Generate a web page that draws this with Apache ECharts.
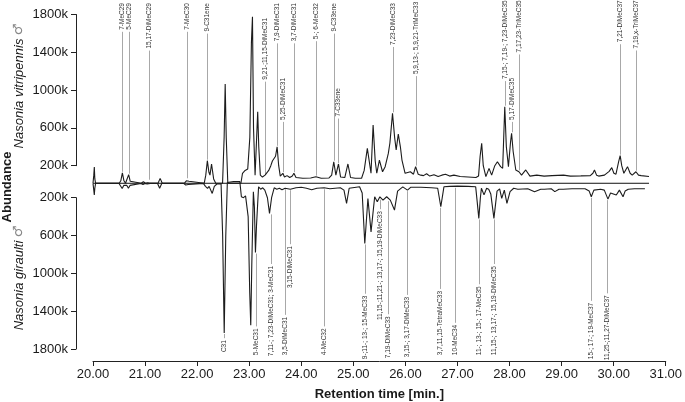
<!DOCTYPE html>
<html><head><meta charset="utf-8">
<script src="https://cdn.jsdelivr.net/npm/echarts@6/dist/echarts.min.js"></script>
<style>html,body{margin:0;padding:0;background:#fff}#c{width:685px;height:402px}</style>
</head><body><div id="c"></div>
<script>
// ---- data (abundance in thousands, time in minutes) ----
const vitTime = [20.00,20.015,20.025,20.035,20.05,20.50,20.53,20.56,20.59,20.62,20.65,20.68,20.71,20.74,20.92,20.96,21.00,21.04,21.07,21.10,21.24,21.28,21.32,21.74,21.78,21.80,21.83,21.86,22.12,22.15,22.18,22.21,22.23,22.26,22.30,22.34,22.47,22.50,22.52,22.54,22.57,22.82,22.85,22.90,22.95,22.99,23.02,23.04,23.06,23.09,23.12,23.14,23.16,23.19,23.23,23.28,23.31,23.35,23.39,23.42,23.45,23.48,23.51,23.54,23.57,23.60,23.62,23.65,23.70,23.75,23.80,23.83,23.87,24.00,24.15,24.25,24.35,24.50,24.55,24.59,24.63,24.68,24.72,24.80,24.86,24.91,25.00,25.12,25.17,25.23,25.30,25.34,25.38,25.41,25.46,25.52,25.57,25.63,25.66,25.71,25.75,25.78,25.82,25.86,25.89,25.95,26.05,26.11,26.15,26.20,26.25,26.30,26.36,26.42,26.50,26.58,26.65,26.72,26.80,26.88,27.00,27.15,27.30,27.35,27.38,27.41,27.44,27.49,27.55,27.60,27.66,27.71,27.77,27.81,27.83,27.85,27.88,27.92,27.96,27.98,28.01,28.06,28.12,28.17,28.25,28.33,28.46,28.60,28.75,28.97,29.10,29.30,29.48,29.53,29.56,29.60,29.64,29.75,29.84,29.89,29.93,29.97,30.02,30.05,30.08,30.12,30.19,30.24,30.28,30.35,30.40,30.45,30.60];
const vitAbund = [14,100,186,60,14,14,40,125,40,14,35,105,35,14,14,30,14,20,41,14,14,66,14,14,40,56,35,14,14,100,253,130,100,218,60,14,14,500,1064,500,14,14,120,150,165,500,1500,1776,600,100,500,771,400,100,80,100,110,150,200,250,230,300,400,200,90,100,120,80,95,75,90,120,75,67,70,84,67,70,100,242,100,218,80,75,218,75,67,67,150,384,120,630,250,120,260,136,190,330,440,754,500,366,535,400,260,120,136,110,190,110,100,95,115,90,105,85,100,110,90,100,85,80,75,90,300,437,200,84,172,100,200,242,190,172,500,824,400,190,450,543,350,155,136,100,155,90,100,90,95,100,90,92,95,120,155,100,90,100,140,180,120,110,240,306,200,120,190,120,100,136,100,95,85];

const girTime = [20.00,20.015,20.025,20.035,20.05,20.50,20.53,20.56,20.59,20.62,20.65,20.68,20.71,20.74,20.92,20.96,21.00,21.04,21.07,21.10,21.24,21.28,21.32,21.74,21.78,21.80,21.83,21.86,22.12,22.16,22.20,22.23,22.29,22.33,22.38,22.46,22.49,22.52,22.55,22.58,22.70,22.82,22.85,22.89,22.93,22.98,23.01,23.03,23.05,23.08,23.10,23.12,23.14,23.18,23.22,23.26,23.30,23.35,23.39,23.43,23.48,23.53,23.58,23.63,23.69,23.79,23.90,24.00,24.10,24.20,24.30,24.44,24.55,24.65,24.75,24.82,24.87,24.92,24.95,25.12,25.17,25.22,25.28,25.34,25.41,25.46,25.51,25.57,25.64,25.71,25.79,25.85,25.95,26.04,26.10,26.30,26.50,26.62,26.68,26.74,26.85,27.00,27.20,27.35,27.38,27.41,27.44,27.46,27.51,27.56,27.60,27.64,27.70,27.76,27.81,27.85,27.90,27.95,28.01,28.08,28.16,28.35,28.48,28.60,28.67,28.80,28.87,28.95,29.03,29.20,29.45,29.53,29.57,29.62,29.65,29.75,29.82,29.89,29.94,29.97,30.05,30.11,30.18,30.22,30.28,30.40,30.60];
const girAbund = [49,120,172,100,49,49,70,102,70,49,70,100,70,49,49,60,49,55,74,49,49,100,49,49,65,80,60,49,49,80,102,80,155,80,55,55,600,1630,600,40,30,30,190,200,180,400,1200,1548,900,137,300,780,500,85,110,95,120,200,366,200,95,110,100,115,100,110,95,90,100,115,100,95,105,100,95,120,260,100,85,85,150,684,208,561,190,243,190,226,190,226,331,130,85,120,90,90,95,100,296,85,80,78,80,85,250,419,200,100,170,100,110,160,419,130,106,208,120,261,136,100,110,105,136,110,110,105,136,110,110,106,106,130,190,120,110,110,120,215,150,136,172,120,190,130,110,106,106];

const baselineTime = [20.0, 30.6];
const baselineAbund = [14, 14];

// top labels: time, label, peak value (k), text-top value (k)
const vitLabelTime = [20.56,20.68,21.07,21.80,22.18,23.28,23.51,23.62,23.84,24.25,24.60,24.68,25.71,26.15,27.85,27.98,28.12,30.05,30.35];
const vitLabelText = ['7-MeC29','5-MeC29','15,17-DiMeC29','7-MeC30','9-C31ene','9,21-;11,15-DiMeC31','7,9-DiMeC31','5,25-DiMeC31','3,7-DiMeC31','5-; 6-MeC32','9-C33ene','7-C33ene','7,23-DiMeC33','5,9,13-; 5,9,21-TriMeC33','7,15-; 7,19-; 7,23-DiMeC35','5,17-DiMeC35','7,17,23-TriMeC35','7,21-DiMeC37','7,19,x-TriMeC37'];
const vitLabelPeak = [125,105,41,56,253,100,400,120,120,84,242,218,754,190,824,543,140,306,136];
const vitLabelTop = [1921,1921,1921,1921,1921,1763,1921,1128,1921,1921,1921,1022,1921,1935,1950,1128,1950,1950,1950];

// bottom labels: time, label, peak value (k), text-bottom value (k)
const girLabelTime = [22.52,23.13,23.41,23.69,23.79,24.44,25.22,25.52,25.66,26.04,26.67,26.95,27.41,27.70,29.57,29.87];
const girLabelText = ['C31','5-MeC31','7,11-; 7,23-DiMeC31; 3-MeC31','3,5-DiMeC31','3,15-DiMeC31','4-MeC32','9-;11-; 13-; 15-MeC33','11,15-;11,21-; 13,17-; 15,19-DiMeC33','7,19-DiMeC33','3,15-; 3,17-DiMeC33','3,7,11,15-TetraMeC33','10-MeC34','11-; 13-; 15-; 17-MeC35','11,15-; 13,17-; 15,19-DiMeC35','15-; 17-; 19-MeC37','11,25-;11,27-DiMeC37'];
const girLabelPeak = [1630,780,366,100,110,100,684,210,226,120,296,85,419,419,190,215];
const girLabelBottom = [1833,1865,1876,1865,1156,1865,1908,1494,1897,1887,1865,1865,1865,1865,1908,1918];

const yTicks = [200, 600, 1000, 1400, 1800];
const xTicks = [20,21,22,23,24,25,26,27,28,29,30,31];

// ---- helpers ----
const zip = (a, b) => a.map((v, i) => [v, b[i]]);
const FONT = '"Liberation Sans", Arial, Helvetica, sans-serif';
const LABEL_FONT = '6.5px ' + FONT;
const mctx = document.createElement('canvas').getContext('2d');
mctx.font = LABEL_FONT;
const measure = t => mctx.measureText(t).width;

function labelRenderer(texts, isTop) {
  return function (params, api) {
    const text = texts[params.dataIndex];
    const t = api.value(0);
    const peak = api.coord([t, api.value(1)]);
    const anchor = api.coord([t, api.value(2)]);
    const w = measure(text);
    const x = Math.round(anchor[0]) + 0.5;
    let y1, y2;
    if (isTop) { y1 = anchor[1] + w + 2; y2 = peak[1] - 1; }
    else { y1 = peak[1] + 1; y2 = anchor[1] - w - 2; }
    return {
      type: 'group',
      children: [
        { type: 'line', shape: { x1: x, y1: y1, x2: x, y2: y2 }, style: { stroke: '#a8a8a8', lineWidth: 1 } },
        { type: 'text', x: x, y: anchor[1], rotation: Math.PI / 2,
          style: { text: text, fill: '#333', font: LABEL_FONT,
                   align: isTop ? 'right' : 'left', verticalAlign: 'middle',
                   textAlign: isTop ? 'right' : 'left', textVerticalAlign: 'middle' } }
      ]
    };
  };
}

const chart = echarts.init(document.getElementById('c'), null, { renderer: 'canvas' });
const yAxisCommon = {
  type: 'value', min: yTicks[0], max: yTicks[yTicks.length - 1], interval: 400,
  offset: 17,
  axisLine: { show: true, lineStyle: { color: '#222', width: 1 } },
  axisTick: { show: true, length: 5, lineStyle: { color: '#222' } },
  axisLabel: { formatter: v => String(v) + 'k', fontSize: 13, color: '#1a1a1a', fontFamily: FONT, margin: 8 },
  splitLine: { show: false }
};
const option = {
  animation: false,
  backgroundColor: '#fff',
  grid: [
    { left: 93, width: 577, top: 14.5, height: 151.2 },
    { left: 93, width: 577, top: 197.7, height: 151.3 }
  ],
  xAxis: [
    { gridIndex: 0, type: 'value', min: 20, max: 31, show: false },
    { gridIndex: 1, type: 'value', min: xTicks[0], max: xTicks[xTicks.length - 1], interval: 1, offset: 12,
      axisLine: { show: true, lineStyle: { color: '#222' } },
      axisTick: { show: true, length: 5, lineStyle: { color: '#222' } },
      axisLabel: { formatter: v => v.toFixed(2), fontSize: 13, color: '#1a1a1a', fontFamily: FONT, margin: 7 },
      splitLine: { show: false },
      name: 'Retention time [min.]', nameLocation: 'middle', nameGap: 27,
      nameTextStyle: { fontSize: 13, fontWeight: 'bold', color: '#1a1a1a', fontFamily: FONT } }
  ],
  yAxis: [
    Object.assign({ gridIndex: 0 }, yAxisCommon),
    Object.assign({ gridIndex: 1, inverse: true }, yAxisCommon)
  ],
  graphic: [
    { type: 'text', x: 7.5, y: 187, rotation: Math.PI / 2,
      style: { text: 'Abundance', font: 'bold 13px ' + FONT, fill: '#1a1a1a', align: 'center', verticalAlign: 'middle', textAlign: 'center', textVerticalAlign: 'middle' } },
    { type: 'text', x: 19, y: 86, rotation: Math.PI / 2,
      style: { text: '{a|Nasonia vitripennis} {b|♂}', align: 'center', verticalAlign: 'middle', textAlign: 'center', textVerticalAlign: 'middle',
        rich: { a: { font: 'italic 13px ' + FONT, fill: '#1a1a1a', color: '#1a1a1a' }, b: { font: '13px "DejaVu Sans"', fill: '#888', color: '#888' } } } },
    { type: 'text', x: 19, y: 278, rotation: Math.PI / 2,
      style: { text: '{a|Nasonia giraulti} {b|♂}', align: 'center', verticalAlign: 'middle', textAlign: 'center', textVerticalAlign: 'middle',
        rich: { a: { font: 'italic 13px ' + FONT, fill: '#1a1a1a', color: '#1a1a1a' }, b: { font: '13px "DejaVu Sans"', fill: '#888', color: '#888' } } } }
  ],
  series: [
    { type: 'custom', xAxisIndex: 0, yAxisIndex: 0, clip: false, silent: true, z: 1,
      renderItem: labelRenderer(vitLabelText, true),
      encode: { x: 0, y: 1 },
      data: vitLabelTime.map((t, i) => [t, vitLabelPeak[i], vitLabelTop[i]]) },
    { type: 'custom', xAxisIndex: 1, yAxisIndex: 1, clip: false, silent: true, z: 1,
      renderItem: labelRenderer(girLabelText, false),
      encode: { x: 0, y: 1 },
      data: girLabelTime.map((t, i) => [t, girLabelPeak[i], girLabelBottom[i]]) },
    { type: 'line', xAxisIndex: 0, yAxisIndex: 0, clip: false, symbol: 'none', z: 3,
      lineStyle: { color: '#111', width: 1 }, data: zip(baselineTime, baselineAbund) },
    { type: 'line', name: 'Nasonia vitripennis', xAxisIndex: 0, yAxisIndex: 0, clip: false, symbol: 'none', z: 4,
      lineStyle: { color: '#1c1c1c', width: 1.1 }, data: zip(vitTime, vitAbund) },
    { type: 'line', name: 'Nasonia giraulti', xAxisIndex: 1, yAxisIndex: 1, clip: false, symbol: 'none', z: 4,
      lineStyle: { color: '#1c1c1c', width: 1.1 }, data: zip(girTime, girAbund) }
  ]
};
chart.setOption(option);
</script>
</body></html>
